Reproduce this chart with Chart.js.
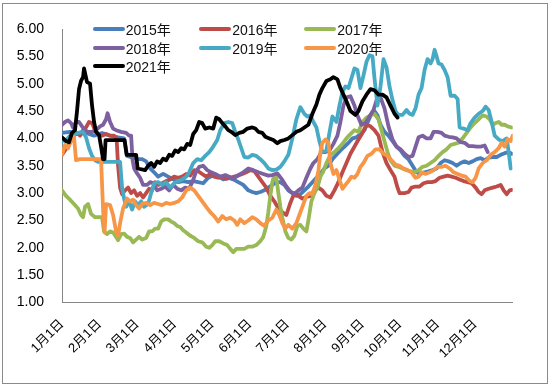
<!DOCTYPE html>
<html><head><meta charset="utf-8">
<script src="https://cdn.jsdelivr.net/npm/chart.js@4.4.0/dist/chart.umd.min.js"></script>
<style>
html,body{margin:0;padding:0;background:#fff;}
#wrap{position:relative;width:550px;height:388px;overflow:hidden;}
#c{position:absolute;left:0;top:0;}
#frame{position:absolute;left:2px;top:3px;width:544px;height:379px;border:1px solid #8a8a8a;pointer-events:none;}
#legend{position:absolute;left:0;top:0;font-family:"Liberation Sans",Arial,"Noto Sans CJK SC",sans-serif;font-size:14px;color:#111;}
.item{position:absolute;height:18px;display:flex;align-items:center;white-space:nowrap;}
.swatch{width:32px;height:4px;border-radius:2px;margin-right:1px;}
</style></head><body>
<div id="wrap"><canvas id="c" width="550" height="388"></canvas><div id="legend"></div><div id="frame"></div></div>
<script>
// ---- categories / tick labels ----
const seriesNames = ['2015年','2016年','2017年','2018年','2019年','2020年','2021年'];
const monthLabels = ['1月1日','2月1日','3月1日','4月1日','5月1日','6月1日','7月1日','8月1日','9月1日','10月1日','11月1日','12月1日'];
const monthStartDays = [0,30,60,90,120,150,180,210,240,270,300,330]; // 30/360 day count
const yMin = 1, yMax = 6, yStep = 0.5;

// ---- series (day of year, 30/360) ----
const days2015 = [0,6.4,12.8,19.2,25.6,32,38.4,44.8,49.6,52,56,60,64,67.2,70.4,73.6,76.8,80.8,84.8,88.8,92.8,96.8,100.8,104.8,108.8,112.8,116.8,120.8,124.8,128.8,132.8,136.8,140.8,144.8,148.8,152,155.2,158.4,161.6,164.8,168,171.2,174.4,177.6,180.8,184,187.2,190.4,193.6,196.8,200,203.2,206.4,209.6,212.8,216,219.2,222.4,225.6,228.8,232,235.2,238.4,241.6,244.8,247.2,249.6,252,254.4,257.6,260.8,264,267.2,270.4,273.6,276.8,280,283.2,286.4,289.6,292.8,296,299.2,302.4,305.6,308.8,312,315.2,318.4,321.6,324.8,328,331.2,334.4,337.6,340.8,344,347.2,350.4,353.6,356.8,359.2];
const values2015 = [4.1,4.12,4.08,4.1,4.05,4.1,4.05,4.02,4.0,3.68,3.65,3.62,3.62,3.58,3.45,3.38,3.3,3.35,3.3,3.25,3.2,3.22,3.2,3.22,3.2,3.18,3.28,3.32,3.3,3.25,3.28,3.25,3.2,3.15,3.05,3.02,3.0,3.02,3.05,3.1,3.15,3.2,3.2,3.15,3.05,3.0,2.95,2.98,3.05,3.12,3.2,3.28,3.35,3.45,3.5,3.62,3.7,3.78,3.85,3.92,4.0,4.02,4.08,4.15,4.33,4.45,4.5,4.42,4.25,4.12,4.05,3.95,3.85,3.78,3.68,3.62,3.5,3.38,3.35,3.38,3.4,3.42,3.45,3.55,3.6,3.58,3.55,3.5,3.55,3.58,3.55,3.58,3.62,3.64,3.6,3.65,3.66,3.66,3.7,3.73,3.75,3.72];

const days2016 = [0,2.4,4.8,7.2,9.6,12,14.4,16.8,19.2,21.6,24,26.4,28.8,32,35.2,38.4,41.6,43.6,44.8,46.4,48,50.4,52.8,55.2,57.6,60,62.4,64.8,67.2,69.6,72,74.4,76.8,80,83.2,86.4,89.6,92.8,96,99.2,102.4,105.6,108.8,112,115.2,118.4,121.6,124.8,128,131.2,134.4,137.6,140.8,144,147.2,150.4,153.6,156.8,160,163.2,166.4,169.6,172.8,176,179.2,182.4,185.6,188.8,192,195.2,198.4,201.6,204.8,208,211.2,214.4,217.6,220.8,224,227.2,230.4,233.6,236.8,240,243.2,246.4,249.6,252.8,256,259.2,262.4,265.6,268,269.6,273.6,276.8,279.2,282.4,285.6,288.8,292,295.2,298.4,301.6,304.8,308,311.2,314.4,317.6,320.8,324,327.2,330.4,332.8,335.2,337.6,340.8,344,347.2,350.4,352.8,355.2,357.6,359.2];
const values2016 = [3.7,3.78,3.85,3.95,4.05,4.1,4.05,4.15,4.2,4.3,4.28,4.15,4.08,4.05,4.08,4.05,4.05,4.0,3.5,3.1,2.98,3.05,3.1,3.0,3.05,2.95,3.0,2.92,3.0,3.08,3.05,3.2,3.15,3.18,3.22,3.25,3.3,3.28,3.3,3.35,3.32,3.42,3.4,3.35,3.3,3.35,3.3,3.28,3.3,3.26,3.28,3.3,3.32,3.35,3.38,3.42,3.4,3.3,3.2,3.1,2.95,2.85,2.72,2.65,2.6,2.82,3.0,2.95,2.9,2.93,2.95,3.05,3.1,3.05,2.95,2.92,3.05,3.2,3.38,3.55,3.72,3.85,3.98,4.1,4.25,4.22,4.15,4.05,3.75,3.55,3.42,3.3,3.1,3.0,3.0,3.02,3.1,3.12,3.12,3.18,3.2,3.2,3.22,3.28,3.3,3.32,3.3,3.28,3.25,3.22,3.2,3.18,3.1,3.02,2.98,3.05,3.08,3.1,3.12,3.15,3.05,2.98,3.05,3.06];

const days2017 = [0,3.2,6.4,9.6,12.8,15.2,16.8,18.4,20.8,23.2,26.4,32,33.6,36,38.4,40.8,43.2,44.8,47.2,49.6,52,54.4,56.8,59.2,61.6,64,67.2,69.6,72,74.4,76.8,79.2,81.6,84.8,87.2,89.6,92,94.4,96.8,99.2,102.4,105.6,108.8,112,115.2,117.6,120,122.4,125.6,128.8,132,134.4,136.8,139.2,142.4,145.6,148.8,152,155.2,158.4,160.8,163.2,164.8,166.4,168,169.6,171.2,172.8,174.4,176,178.4,180.8,183.2,185.6,188,190.4,192.8,195.2,196.8,199.2,201.6,204,206.4,208.8,211.2,214.4,217.6,220.8,224,227.2,230.4,233.6,236.8,240,243.2,246.4,249.6,252.8,255.2,257.6,260,262.4,265.6,268.8,272,275.2,278.4,281.6,284.8,288,291.2,294.4,297.6,300.8,304,307.2,310.4,313.6,316.8,320,323.2,326.4,329.6,332.8,336,339.2,341.6,344,346.4,348.8,351.2,353.6,356,359.2];
const values2017 = [3.05,2.95,2.88,2.8,2.72,2.6,2.56,2.75,2.8,2.62,2.56,2.56,2.3,2.25,2.3,2.28,2.2,2.14,2.25,2.26,2.2,2.18,2.1,2.15,2.2,2.15,2.18,2.3,2.3,2.35,2.35,2.48,2.52,2.52,2.48,2.45,2.4,2.38,2.32,2.28,2.22,2.18,2.12,2.1,2.02,2.0,2.05,2.12,2.12,2.08,2.05,1.98,1.92,1.98,1.98,1.98,2.02,2.02,2.05,2.12,2.2,2.4,2.65,2.95,3.2,3.33,3.28,3.0,2.75,2.55,2.3,2.18,2.15,2.22,2.4,2.42,2.35,2.3,2.5,2.85,3.0,3.1,3.3,3.4,3.55,3.7,3.75,3.82,3.9,4.0,4.08,4.15,4.12,4.3,4.38,4.42,4.45,4.35,4.15,3.95,3.75,3.6,3.5,3.48,3.45,3.42,3.4,3.38,3.42,3.48,3.5,3.55,3.6,3.68,3.75,3.8,3.88,3.9,3.92,4.0,4.1,4.2,4.28,4.35,4.42,4.4,4.35,4.25,4.28,4.3,4.25,4.25,4.22,4.2];

const days2018 = [0,2.4,4.8,7.2,8.8,11.2,13.6,16,18.4,20.8,24,27.2,30.4,32.8,35.2,36.4,38.4,40.8,43.2,47.2,51.2,53.6,55.2,56.4,57.6,60,62.4,64.8,68,70.4,72.8,76,79.2,82.4,85.6,88.8,92,95.2,98.4,101.6,104.8,107.2,109.6,112.8,116,119.2,122.4,126.4,130.4,133.6,136.8,140.8,144.8,148.8,152.8,156.8,160.8,164.8,168,172,176,179.2,182.4,185.6,188.8,192,195.2,198.4,200.8,204,207.2,210.4,213.6,216.8,220,222.4,224.8,227.2,230.4,233.6,236,239.2,242.4,245.6,248.8,252,254.4,257.6,260.8,264,267.2,270.4,273.6,276.8,280,282.4,284.8,288,291.2,294.4,296.8,300,303.2,305.6,308.8,312,315.2,318.4,321.6,324.8,328,331.2,334.4,337.6,340];
const values2018 = [4.25,4.3,4.33,4.28,4.2,4.3,4.3,4.22,4.15,4.12,4.12,4.15,4.22,4.25,4.35,4.46,4.3,4.18,4.15,4.12,4.1,4.05,4.05,3.6,3.45,3.36,3.28,3.15,3.15,3.2,3.18,3.05,3.08,3.12,3.05,3.15,3.08,3.05,3.1,3.08,3.24,3.4,3.48,3.5,3.42,3.38,3.35,3.3,3.33,3.3,3.26,3.33,3.38,3.45,3.42,3.38,3.35,3.32,3.33,3.36,3.24,3.12,3.03,2.98,3.05,3.1,3.28,3.45,3.55,3.62,3.75,3.75,3.78,3.9,4.05,4.3,4.6,4.75,4.77,4.6,4.42,4.25,4.28,4.4,4.52,4.75,4.75,4.55,4.22,3.98,3.85,3.8,3.72,3.66,3.68,3.85,4.02,4.05,4.0,4.0,4.12,4.12,4.1,4.05,4.03,4.02,4.0,3.93,3.92,3.86,3.86,3.85,3.85,3.87,3.75];

const days2019 = [0,3.2,6.4,9.6,12.8,16.8,19.2,21.6,24,26.4,28.8,46.4,48,49.6,51.2,53.6,56,58.4,60.8,63.2,65.6,68.8,71.2,73.6,76.8,80,83.2,86.4,89.6,92.8,96,99.2,101.6,104.8,108,111.2,114.4,117.6,120.8,124,126.4,129.6,132.8,136,138.4,140.8,143.2,145.6,148.8,152,155.2,158.4,161.6,164.8,168,171.2,174.4,177.6,180.8,184,187.2,190.4,193.6,196,198.4,200.8,203.2,205.6,208,211.2,213.6,216,219.2,221.6,224,226.4,228.8,231.2,233.6,236,238.4,240.8,243.2,245.6,248,249.6,252,254.4,256.8,259.2,261.6,264,266.4,268.8,272,275.2,277.6,280,282.4,284.8,287.2,289.6,292,294.4,296,297.6,299.2,300.8,303.2,305.6,308,310.4,313.6,316,317.6,320.8,324,326.4,329.6,332.8,336,338.4,340.8,343.2,345.6,348.8,352,355.2,356.8,358.4];
const values2019 = [3.95,3.97,4.05,4.08,4.1,4.12,4.02,3.82,3.68,3.6,3.57,3.57,3.1,2.9,2.75,2.85,2.7,2.85,2.78,2.85,2.75,2.8,3.0,3.18,3.2,3.15,3.2,3.1,3.18,3.22,3.25,3.3,3.38,3.55,3.62,3.6,3.68,3.75,3.85,3.97,4.15,4.28,4.3,4.28,4.12,3.98,3.82,3.66,3.65,3.7,3.68,3.62,3.55,3.45,3.42,3.43,3.48,3.58,3.7,4.0,4.35,4.57,4.45,4.4,4.42,4.3,4.2,3.95,3.75,3.78,4.1,4.4,4.3,4.6,4.85,4.95,4.92,5.1,5.28,5.25,4.92,5.15,5.4,5.52,5.5,5.1,4.6,4.95,5.45,5.3,4.95,4.7,4.5,4.43,4.43,4.52,4.45,4.43,4.55,4.8,4.92,5.25,5.45,5.37,5.45,5.62,5.5,5.37,5.35,5.25,5.12,4.78,4.78,4.72,4.2,4.18,4.15,4.28,4.38,4.45,4.5,4.58,4.52,4.3,4.05,3.98,3.95,4.0,3.75,3.45];

const days2020 = [0,2.4,4.8,7.2,9.6,11.2,14.4,22.4,31.2,32.8,34,35.2,38.4,40.8,43.2,44.8,46.4,48.8,52,54.4,56.8,59.2,61.6,64,67.2,70.4,73.6,76.8,80,83.2,86.4,89.6,92.8,96,99.2,102.4,105.6,108.8,112,115.2,118.4,121.6,124.8,128,131.2,134.4,137.6,140,142.4,145.6,148.8,152,155.2,158.4,161.6,164.8,168,171.2,173.6,176,178.4,180.8,184,187.2,190.4,192.8,195.2,197.6,200,202.4,204.8,206.4,208,210.4,212.8,214.4,216.8,219.2,221.6,224,226.4,228.8,231.2,233.6,236,238.4,240.8,244,247.2,250.4,253.6,256.8,260,263.2,266.4,269.6,272.8,276,279.2,282.4,284.8,287.2,290.4,293.6,296.8,300,303.2,306.4,309.6,312.8,316,319.2,322.4,325.6,328,330.4,332.8,336,339.2,342.4,345.6,348.8,351.2,353.6,356,358.4,360];
const values2020 = [3.7,3.88,3.82,3.97,4.03,3.6,3.62,3.62,3.62,2.7,2.28,2.8,2.78,2.6,2.3,2.22,2.45,2.72,2.9,2.85,2.88,2.78,2.72,2.8,2.82,2.78,2.82,2.8,2.78,2.82,2.8,2.82,2.85,2.92,3.05,3.1,3.05,2.95,2.85,2.75,2.65,2.58,2.48,2.58,2.52,2.55,2.5,2.42,2.52,2.45,2.5,2.56,2.52,2.45,2.4,2.5,2.55,2.7,2.6,2.45,2.35,2.42,2.35,2.45,2.65,2.8,2.95,3.0,2.98,3.15,3.4,3.75,3.92,3.98,3.92,3.55,3.35,3.42,3.25,3.08,3.15,3.22,3.3,3.28,3.35,3.48,3.55,3.68,3.72,3.8,3.8,3.72,3.68,3.6,3.52,3.5,3.45,3.42,3.38,3.28,3.3,3.38,3.35,3.38,3.42,3.48,3.48,3.5,3.45,3.38,3.35,3.32,3.3,3.22,3.2,3.28,3.45,3.55,3.6,3.7,3.75,3.82,3.92,3.85,3.98,3.95,4.05];

const days2021 = [0,3.2,5.6,8,10.4,12,13.6,15.2,16.8,17.6,18.8,20,22.4,24,25.6,27.2,29.6,31.2,32.8,34,34.8,50,51.6,59.2,60.4,66.4,68.8,71.2,73.6,76,78.4,80.8,83.2,85.6,88,90.4,92.8,95.2,97.6,100,102.4,104.8,107.2,109.6,112,114.4,117.6,120.8,123.2,125.6,128,130.4,132.8,135.2,138.4,141.6,144.8,148,152,154.4,156.8,160,162.4,165.6,168.8,172,174.4,177.6,180.8,184,187.2,190.4,193.6,196.8,200,203.2,205.6,208,211.2,214.4,216.8,220,222.4,224.8,227.2,230.4,234.4,236.8,240,243.2,246.4,249.6,252.8,256,259.2,262.4,265.6,268];
const values2021 = [4.02,3.95,3.93,4.1,4.15,4.5,4.9,5.05,5.12,5.28,5.15,5.03,5.0,4.6,4.3,4.12,4.06,3.85,3.62,3.62,3.97,3.97,3.7,3.7,3.45,3.42,3.5,3.55,3.48,3.58,3.55,3.63,3.6,3.7,3.68,3.78,3.75,3.82,3.8,3.9,3.88,4.08,4.15,4.3,4.28,4.18,4.2,4.18,4.38,4.35,4.28,4.22,4.15,4.12,4.06,4.1,4.12,4.18,4.2,4.18,4.12,4.1,4.03,4.0,3.97,3.91,3.95,3.97,4.0,4.06,4.12,4.15,4.2,4.25,4.45,4.62,4.8,4.92,5.05,5.08,5.12,5.08,4.92,4.8,4.68,4.5,4.43,4.5,4.68,4.8,4.9,4.88,4.8,4.8,4.75,4.6,4.45,4.38];

const seriesDays = [days2015, days2016, days2017, days2018, days2019, days2020, days2021];
const seriesValues = [values2015, values2016, values2017, values2018, values2019, values2020, values2021];
const seriesColors = ['#4A7EBB','#BE4B48','#98B954','#7D60A0','#46AAC5','#F79646','#000000'];

const FONT = '"Liberation Sans", Arial, "Noto Sans CJK SC", sans-serif';

const datasets = seriesNames.map((name, i) => ({
  label: name,
  data: seriesDays[i].map((d, j) => ({x: d, y: seriesValues[i][j]})),
  borderColor: seriesColors[i],
  backgroundColor: seriesColors[i],
  borderWidth: 3.8,
  pointRadius: 0,
  tension: 0,
  fill: false,
  borderJoinStyle: 'round',
  borderCapStyle: 'round',
  order: seriesNames.length - 1 - i
}));

new Chart(document.getElementById('c'), {
  type: 'line',
  data: {datasets},
  options: {
    responsive: false,
    animation: false,
    devicePixelRatio: 1,
    layout: {padding: {top: 29, right: 37.3, bottom: 0, left: 0}},
    plugins: {legend: {display: false}, tooltip: {enabled: false}},
    scales: {
      x: {
        type: 'linear', min: 0, max: 360,
        grid: {display: false, drawTicks: false},
        border: {display: true, color: '#868686', width: 1},
        afterBuildTicks: s => { s.ticks = monthStartDays.map(v => ({value: v})); },
        afterFit: s => { s.height = 85.5; },
        ticks: {
          autoSkip: false, minRotation: 45, maxRotation: 45, padding: 14,
          color: '#000', font: {family: FONT, size: 13},
          callback: v => monthLabels[monthStartDays.indexOf(v)]
        }
      },
      y: {
        min: yMin, max: yMax,
        grid: {display: false, drawTicks: false},
        border: {display: true, color: '#868686', width: 1},
        afterFit: s => { s.width = 62; },
        ticks: {
          stepSize: yStep, padding: 18,
          color: '#000', font: {family: FONT, size: 14},
          callback: v => Number(v).toFixed(2)
        }
      }
    }
  }
});

// legend (3 columns, overlaid on the plot like the original)
const legendCols = [92.7, 199.3, 304.3];
const legendRows = [29.3, 47.7, 66];
const legendEl = document.getElementById('legend');
seriesNames.forEach((name, i) => {
  const item = document.createElement('div');
  item.className = 'item';
  item.style.left = legendCols[i % 3] + 'px';
  item.style.top = (legendRows[Math.floor(i / 3)] - 9) + 'px';
  const sw = document.createElement('span');
  sw.className = 'swatch';
  sw.style.background = seriesColors[i];
  const tx = document.createElement('span');
  tx.textContent = name;
  item.appendChild(sw); item.appendChild(tx);
  legendEl.appendChild(item);
});
</script>
</body></html>
